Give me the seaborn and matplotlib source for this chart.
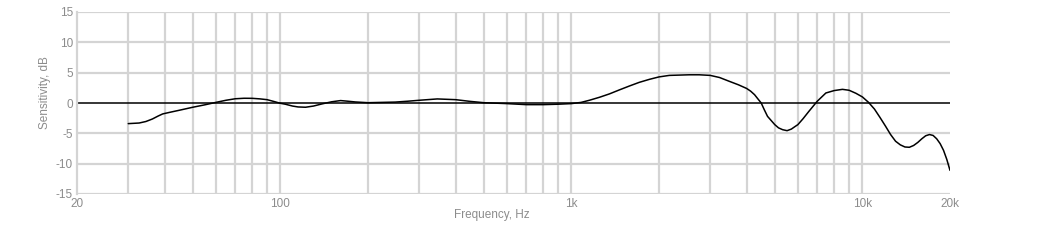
import matplotlib
matplotlib.use("Agg")
import matplotlib.pyplot as plt
import matplotlib.ticker as mticker
import seaborn as sns
import pandas as pd

freq_hz = [30, 32.7, 34.5, 36.3, 38, 39.4, 42, 44.9, 50, 55, 60, 65, 70, 75, 80, 85, 90, 95, 100, 104,
           110, 115, 122, 130, 139, 150, 161, 170, 181, 200, 248, 275, 300, 346, 400, 448, 500, 600,
           700, 800, 900, 1000, 1080, 1153, 1250, 1351, 1460, 1582, 1710, 1854, 2000, 2170, 2540, 2750,
           3000, 3230, 3490, 3750, 4000, 4130, 4260, 4370, 4490, 4600, 4720, 5000, 5150, 5320, 5510,
           5700, 5880, 6000, 6250, 6550, 6990, 7490, 8000, 8540, 9000, 9500, 10000, 10500, 11000,
           11500, 12000, 12500, 13000, 13500, 14000, 14500, 15000, 15500, 16000, 16500, 17000, 17500,
           18000, 18500, 19000, 19500, 20000]
sensitivity_db = [-3.4, -3.3, -3.05, -2.64, -2.15, -1.8, -1.5, -1.2, -0.7, -0.3, 0.1, 0.45, 0.7, 0.78,
                  0.77, 0.68, 0.55, 0.25, -0.05, -0.2, -0.5, -0.65, -0.7, -0.5, -0.15, 0.2, 0.4, 0.3,
                  0.17, 0.05, 0.15, 0.3, 0.45, 0.67, 0.55, 0.27, 0.05, -0.1, -0.27, -0.27, -0.2, -0.1,
                  0.1, 0.45, 0.95, 1.5, 2.15, 2.8, 3.4, 3.9, 4.3, 4.55, 4.65, 4.65, 4.55, 4.2, 3.57,
                  3.0, 2.4, 1.95, 1.37, 0.7, 0.0, -1.1, -2.2, -3.57, -4.1, -4.4, -4.56, -4.3, -3.85,
                  -3.57, -2.6, -1.37, 0.27, 1.65, 2.05, 2.25, 2.1, 1.6, 1.0, 0.1, -1.0, -2.4, -3.8,
                  -5.2, -6.3, -6.9, -7.25, -7.3, -7.0, -6.5, -5.9, -5.4, -5.2, -5.35, -5.9, -6.7,
                  -7.8, -9.3, -11.1]

y_ticks = [-15, -10, -5, 0, 5, 10, 15]
x_tick_values = [20, 100, 1000, 10000, 20000]
x_tick_labels = ["20", "100", "1k", "10k", "20k"]

df = pd.DataFrame({"Frequency": freq_hz, "Sensitivity": sensitivity_db})

sns.set_theme(style="white")
plt.rcParams["font.family"] = ["Liberation Sans", "DejaVu Sans"]

fig = plt.figure(figsize=(10.52, 2.40), dpi=100)
ax = fig.add_axes([77 / 1052, 1 - 194 / 240, (950 - 77) / 1052, (194 - 12) / 240])

grid_col = "#d4d4d4"
ax.set_xscale("log")
ax.set_xlim(20, 20000)
ax.set_ylim(-15, 15)

grid_locs = []
for dec in [10, 100, 1000, 10000]:
    for m in range(2, 11):
        v = dec * m
        if 20 < v < 20000:
            grid_locs.append(v)
for v in grid_locs:
    ax.axvline(v, color=grid_col, lw=1.6, zorder=1)
for v in y_ticks:
    if v != 0:
        ax.axhline(v, color=grid_col, lw=1.6, zorder=1)
ax.axhline(0, color="black", lw=1.1, zorder=2)

sns.lineplot(data=df, x="Frequency", y="Sensitivity", ax=ax, color="black", lw=1.1, zorder=3)

ax.xaxis.set_major_locator(mticker.FixedLocator(x_tick_values))
ax.xaxis.set_major_formatter(mticker.FixedFormatter(x_tick_labels))
ax.xaxis.set_minor_locator(mticker.NullLocator())
ax.set_yticks(y_ticks)
ax.set_yticklabels([str(v) for v in y_ticks])
ax.tick_params(axis="both", length=0, labelsize=8.5, colors="#8c8c8c", pad=3)

for s in ["top", "bottom", "right"]:
    ax.spines[s].set_visible(False)
ax.spines["left"].set_color(grid_col)
ax.spines["left"].set_linewidth(1.6)

ax.set_xlabel("Frequency, Hz", fontsize=8.5, color="#8c8c8c")
ax.set_ylabel("Sensitivity, dB", fontsize=8.5, color="#8c8c8c")
ax.xaxis.set_label_coords((492 - 77) / 873, -0.085)
ax.yaxis.set_label_coords(-0.0298, 0.56)

fig.savefig("out.png", dpi=100, facecolor="white")
